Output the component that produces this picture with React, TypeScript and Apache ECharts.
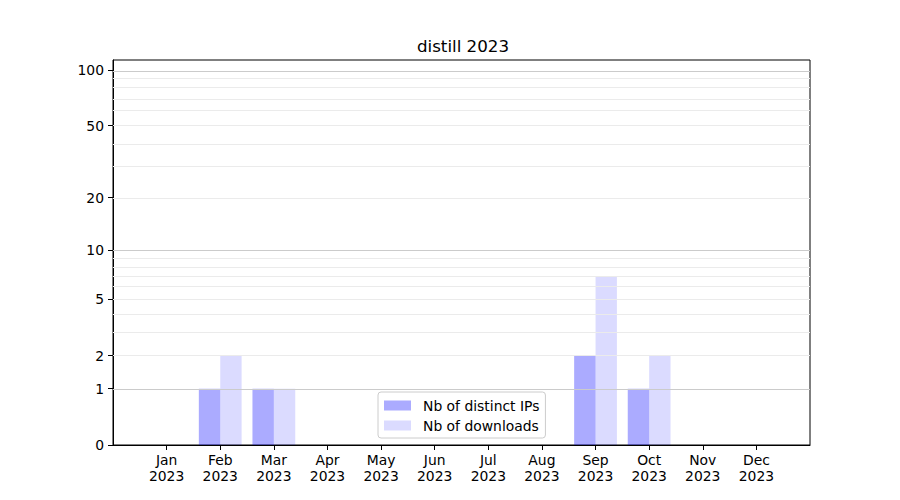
import React, { useEffect, useRef } from "react";
import * as echarts from "echarts";

const months = ["Jan", "Feb", "Mar", "Apr", "May", "Jun", "Jul", "Aug", "Sep", "Oct", "Nov", "Dec"];
const yearLabel = "2023";
const distinctIPs = [0, 1, 1, 0, 0, 0, 0, 0, 2, 1, 0, 0];
const downloads = [0, 2, 1, 0, 0, 0, 0, 0, 7, 2, 0, 0];
const yTickValues = [0, 1, 2, 5, 10, 20, 50, 100];
const majorGrid = [1, 10, 100];
const minorGrid = [2, 3, 4, 5, 6, 7, 8, 9, 20, 30, 40, 50, 60, 70, 80, 90];
const yMaxValue = 113.2;

const tf = (v: number) => Math.log10(v + 1);
const font = "DejaVu Sans";

export default function App() {
  const ref = useRef<HTMLDivElement>(null);
  useEffect(() => {
    if (!ref.current) return;
    const chart = echarts.init(ref.current, null, { renderer: "svg" });
    const monthIdx = months.map((_, i) => i);
    chart.setOption({
      animation: false,
      backgroundColor: "#ffffff",
      textStyle: { fontFamily: font },
      title: {
        text: "distill 2023",
        left: 458,
        textAlign: "center",
        top: 32,
        textStyle: { fontFamily: font, fontSize: 16.7, fontWeight: "normal", color: "#000" },
      },
      legend: {
        orient: "vertical",
        left: 378,
        top: 392,
        data: ["Nb of distinct IPs", "Nb of downloads"],
        icon: "rect",
        itemWidth: 27,
        itemHeight: 10,
        itemGap: 5,
        padding: [6, 6, 5, 6],
        borderColor: "#cccccc",
        borderWidth: 1,
        borderRadius: 3,
        backgroundColor: "rgba(255,255,255,0.8)",
        textStyle: { fontFamily: font, fontSize: 13.9, color: "#000", lineHeight: 15, padding: [0, 0, 0, 7] },
      },
      grid: {
        left: 113,
        right: 90,
        top: 60,
        bottom: 55,
        show: true,
        borderColor: "#000",
        borderWidth: 1,
        backgroundColor: "transparent",
      },
      xAxis: {
        type: "value",
        min: -1,
        max: 12,
        splitLine: { show: false },
        axisLine: { show: true, onZero: false, lineStyle: { color: "#000", width: 1 } },
        axisTick: { show: true, customValues: monthIdx, length: 5, lineStyle: { color: "#000" } },
        axisLabel: {
          customValues: monthIdx,
          formatter: (v: number) => `${months[Math.round(v)]}\n${yearLabel}`,
          fontFamily: font,
          fontSize: 13.9,
          color: "#000",
          lineHeight: 16,
          margin: 7,
        },
      },
      yAxis: {
        type: "value",
        min: 0,
        max: tf(yMaxValue),
        splitLine: { show: false },
        axisLine: { show: true, onZero: false, lineStyle: { color: "#000", width: 1 } },
        axisTick: { show: true, customValues: yTickValues.map(tf), length: 5, lineStyle: { color: "#000" } },
        axisLabel: {
          customValues: yTickValues.map(tf),
          formatter: (v: number) => String(Math.round(Math.pow(10, v) - 1)),
          fontFamily: font,
          fontSize: 13.9,
          color: "#000",
          margin: 9,
        },
      },
      series: [
        {
          type: "line",
          name: "grid",
          data: [],
          z: 1,
          silent: true,
          markLine: {
            silent: true,
            symbol: "none",
            label: { show: false },
            lineStyle: { color: "#ebebeb", width: 1, type: "solid" },
            data: minorGrid.map((v) => ({ yAxis: tf(v) })),
          },
        },
        {
          type: "line",
          name: "gridMajor",
          data: [],
          z: 1,
          silent: true,
          markLine: {
            silent: true,
            symbol: "none",
            label: { show: false },
            lineStyle: { color: "#cbcbcb", width: 1, type: "solid" },
            data: majorGrid.map((v) => ({ yAxis: tf(v) })),
          },
        },
        {
          type: "bar",
          name: "Nb of distinct IPs",
          z: 2,
          barWidth: 21.4,
          barGap: "0%",
          itemStyle: { color: "rgba(0,0,255,0.33)" },
          data: distinctIPs.map((v, i) => [i, tf(v)]),
        },
        {
          type: "bar",
          name: "Nb of downloads",
          z: 2,
          barWidth: 21.4,
          barGap: "0%",
          itemStyle: { color: "rgba(0,0,255,0.14)" },
          data: downloads.map((v, i) => [i, tf(v)]),
        },
      ],
    });
    return () => chart.dispose();
  }, []);
  return <div ref={ref} style={{ width: 900, height: 500, position: "absolute", left: 0, top: 0 }} />;
}
